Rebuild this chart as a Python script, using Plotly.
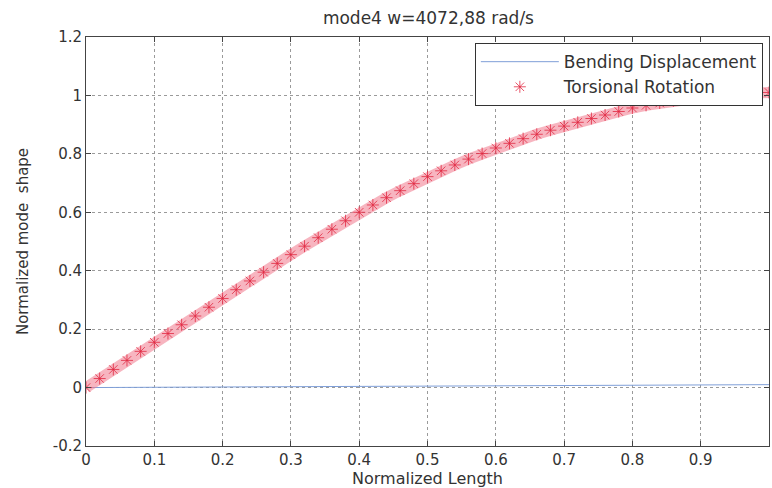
import plotly.graph_objects as go

# Normalized length positions
x_tors = [0.00, 0.02, 0.04, 0.06, 0.08, 0.10, 0.12, 0.14, 0.16, 0.18,
          0.20, 0.22, 0.24, 0.26, 0.28, 0.30, 0.32, 0.34, 0.36, 0.38,
          0.40, 0.42, 0.44, 0.46, 0.48, 0.50, 0.52, 0.54, 0.56, 0.58,
          0.60, 0.62, 0.64, 0.66, 0.68, 0.70, 0.72, 0.74, 0.76, 0.78,
          0.80, 0.82, 0.84, 0.86, 0.88, 0.90, 0.92, 0.94, 0.96, 0.98, 1.00]
# Torsional rotation
y_tors = [0.000, 0.031, 0.062, 0.093, 0.124, 0.155, 0.185, 0.215, 0.245, 0.275,
          0.305, 0.335, 0.365, 0.395, 0.425, 0.455, 0.484, 0.513, 0.542, 0.571,
          0.600, 0.625, 0.650, 0.674, 0.698, 0.722, 0.742, 0.762, 0.782, 0.801,
          0.820, 0.836, 0.852, 0.867, 0.881, 0.895, 0.908, 0.921, 0.933, 0.945,
          0.957, 0.966, 0.974, 0.982, 0.989, 0.995, 0.999, 1.003, 1.006, 1.008, 1.010]

# Bending displacement
x_bend = [0.0, 0.2, 0.4, 0.6, 0.8, 1.0]
y_bend = [0.000, 0.002, 0.004, 0.006, 0.008, 0.010]

x_ticks = [0, 0.1, 0.2, 0.3, 0.4, 0.5, 0.6, 0.7, 0.8, 0.9]
x_tick_text = ["0", "0.1", "0.2", "0.3", "0.4", "0.5", "0.6", "0.7", "0.8", "0.9"]
y_ticks = [-0.2, 0, 0.2, 0.4, 0.6, 0.8, 1.0, 1.2]
y_tick_text = ["-0.2", "0", "0.2", "0.4", "0.6", "0.8", "1", "1.2"]

FONT = "DejaVu Sans"
TXT = "#333333"
RED = "rgba(225,40,65,0.8)"

fig = go.Figure()

fig.add_trace(go.Scatter(
    x=x_bend, y=y_bend, mode="lines", name="Bending Displacement",
    line=dict(color="#7f9fd8", width=1),
))

# soft band under the dense markers
fig.add_trace(go.Scatter(
    x=x_tors, y=y_tors, mode="lines", showlegend=False, hoverinfo="skip",
    line=dict(color="rgba(240,120,140,0.55)", width=11),
))

fig.add_trace(go.Scatter(
    x=x_tors, y=y_tors, mode="markers", name="Torsional Rotation",
    marker=dict(symbol="asterisk-open", size=10, color=RED,
                line=dict(color=RED, width=1)),
))

axis_common = dict(
    showline=True, linecolor="#444444", linewidth=1, mirror="ticks",
    ticks="inside", ticklen=5, tickcolor="#444444",
    showgrid=True, gridcolor="#9a9a9a", griddash="dot", gridwidth=1,
    zeroline=False,
    tickfont=dict(family=FONT, size=15, color=TXT),
)

fig.update_layout(
    width=772, height=488,
    margin=dict(l=86, r=3, t=37, b=42),
    paper_bgcolor="white", plot_bgcolor="white",
    title=dict(text="mode4 w=4072,88 rad/s", x=0.555, xanchor="center",
               y=1 - 18 / 488, yanchor="middle", yref="container",
               font=dict(family=FONT, size=17, color=TXT)),
    xaxis=dict(range=[0, 1], tickvals=x_ticks, ticktext=x_tick_text,
               title=dict(text="Normalized Length", standoff=3,
                          font=dict(family=FONT, size=16, color=TXT)),
               **axis_common),
    yaxis=dict(range=[-0.2, 1.2], tickvals=y_ticks, ticktext=y_tick_text,
               title=dict(text="Normalized mode  shape", standoff=20,
                          font=dict(family=FONT, size=15, color=TXT)),
               **axis_common),
    legend=dict(x=0.991, xanchor="right", y=0.985, yanchor="top",
                bgcolor="white", bordercolor="#333333", borderwidth=1,
                font=dict(family=FONT, size=17, color=TXT),
                itemwidth=78, tracegroupgap=0),
    showlegend=True,
)

fig.write_html("out.html")
